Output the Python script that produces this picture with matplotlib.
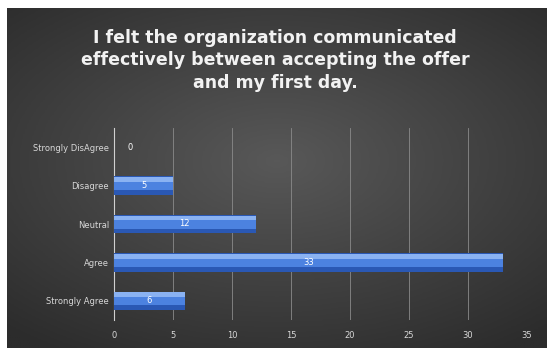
"""
Survey chart: did the organization communicate effectively between
accepting the offer and the first day.
"""
import numpy as np
import matplotlib
matplotlib.use('Agg')
from matplotlib import pyplot as plt

categories = ["Strongly DisAgree", "Disagree", "Neutral", "Agree", "Strongly Agree"]
responses = [0, 5, 12, 33, 6]
x_ticks = [0, 5, 10, 15, 20, 25, 30, 35]
title = ("I felt the organization communicated\n"
         "effectively between accepting the offer\n"
         "and my first day.")


def draw_background(fig):
    """Dark radial gradient panel inside a thin white frame."""
    bg = fig.add_axes([7 / 550, 7 / 355, 540 / 550, 340 / 355])
    bg.set_axis_off()
    yy, xx = np.mgrid[-1:1:200j, -1:1:300j]
    dist = np.sqrt((xx * 0.9) ** 2 + ((yy + 0.1) * 1.0) ** 2)
    shade = np.clip(1 - dist / 1.35, 0, 1)
    bg.imshow(shade, cmap=matplotlib.colors.LinearSegmentedColormap.from_list(
        "panel", ["#2c2c2c", "#585858"]), aspect="auto", extent=(0, 1, 0, 1))
    bg.set_xlim(0, 1)
    bg.set_ylim(0, 1)


def plot_responses():
    fig = plt.figure(figsize=(5.5, 3.55), dpi=100, facecolor="white")
    draw_background(fig)

    fig.text(0.5, 0.918, title, ha="center", va="top", color="#f2f2f2",
             fontsize=12.5, fontweight="bold", linespacing=1.3,
             family="DejaVu Sans")

    ax = fig.add_axes([114 / 550, 1 - 320 / 355, 413 / 550, 192 / 355])
    ax.patch.set_alpha(0)
    y = np.arange(len(categories))

    # dark base bar, blue face and a light strip along the top edge
    # (y axis is inverted, so "top" means smaller y)
    ax.barh(y, responses, height=0.48, color="#2a58b4", zorder=3)
    ax.barh(y - 0.04, responses, height=0.32, color="#4c82e0", zorder=4)
    ax.barh(y - 0.16, responses, height=0.12, color="#8ab2f2", zorder=5)

    for pos, value in zip(y, responses):
        xpos = value / 2 if value > 0 else 1.4
        ax.text(xpos, pos, str(value), ha="center", va="center",
                color="white", fontsize=6, zorder=6)

    ax.set_xlim(0, 35)
    ax.set_ylim(len(categories) - 0.5, -0.5)
    ax.set_xticks(x_ticks)
    ax.set_yticks(y)
    ax.set_yticklabels(categories)
    ax.tick_params(colors="#d8d8d8", labelsize=6, length=0)
    ax.tick_params(axis="x", pad=8)
    ax.grid(axis="x", color="#8a8a8a", linewidth=0.6, zorder=0)
    for side in ("top", "right", "bottom"):
        ax.spines[side].set_visible(False)
    ax.spines["left"].set_color("#d0d0d0")
    ax.spines["left"].set_linewidth(0.8)

    fig.savefig("out.png", dpi=100, facecolor="white")


if __name__ == "__main__":
    plot_responses()
